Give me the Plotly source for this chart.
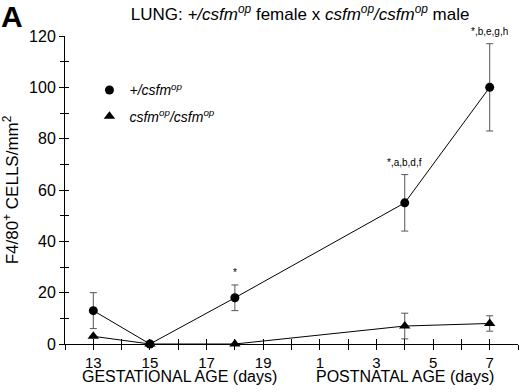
import plotly.graph_objects as go

# ---- data ----
sample_phase = ["G", "G", "G", "P", "P"]      # G = gestational, P = postnatal
sample_day = [13, 15, 18, 4, 7]
het_mean = [13, 0, 18, 55, 100]               # +/csfm^op
het_err = [7, 0, 5, 11, 17]
op_mean = [3, 0, 0, 7, 8]                     # csfm^op/csfm^op
op_err = [0, 0, 0, 5, 3]
sig_labels = ["", "", "*", "*,a,b,d,f", "*,b,e,g,h"]

gest_tick_days = [13, 15, 17, 19]
post_tick_days = [1, 3, 5, 7]
y_tick_vals = [0, 20, 40, 60, 80, 100, 120]

FIRST_GEST_DAY = 13
LAST_GEST_DAY = 20


def pos(phase, day):
    # continuous age axis: E13 -> 0 ... E20 -> 7, P1 -> 8 ...
    if phase == "G":
        return day - FIRST_GEST_DAY
    return (LAST_GEST_DAY - FIRST_GEST_DAY) + day


xs = [pos(p, d) for p, d in zip(sample_phase, sample_day)]
tick_pos = [pos("G", d) for d in gest_tick_days] + [pos("P", d) for d in post_tick_days]
tick_txt = [str(d) for d in gest_tick_days] + [str(d) for d in post_tick_days]

FONT = "Liberation Sans, Arial, Helvetica, sans-serif"
err_style = dict(type="data", visible=True, color="#555555", thickness=1, width=3.5)

fig = go.Figure()

fig.add_trace(go.Scatter(
    x=xs, y=het_mean, mode="lines+markers",
    line=dict(color="black", width=1),
    marker=dict(symbol="circle", size=9, color="black"),
    error_y=dict(array=het_err, **err_style),
    cliponaxis=False, showlegend=False))

fig.add_trace(go.Scatter(
    x=xs, y=op_mean, mode="lines+markers",
    line=dict(color="black", width=1),
    marker=dict(symbol="triangle-up", size=10, color="black"),
    error_y=dict(array=op_err, **err_style),
    cliponaxis=False, showlegend=False))

# legend-only entries (markers only, as in the original)
fig.add_trace(go.Scatter(
    x=[None], y=[None], mode="markers",
    marker=dict(symbol="circle", size=9, color="black"),
    name="<i>+/csfm<sup>op</sup></i>", legendgroup="a"))
fig.add_trace(go.Scatter(
    x=[None], y=[None], mode="markers",
    marker=dict(symbol="triangle-up", size=10, color="black"),
    name="<i>csfm<sup>op</sup>/csfm<sup>op</sup></i>", legendgroup="b"))

# invisible trace to carry the overlay axes (inside tick halves)
fig.add_trace(go.Scatter(x=[None], y=[None], xaxis="x2", yaxis="y2",
                         showlegend=False, hoverinfo="skip"))

# significance labels above the upper error bars
for x, m, e, lab in zip(xs, het_mean, het_err, sig_labels):
    if lab:
        fig.add_annotation(x=x, y=m + e, text=lab, showarrow=False,
                           yanchor="bottom", yshift=5,
                           font=dict(size=10, color="black", family=FONT))

xr = [-1, 15]
yr = [0, 120]

fig.update_layout(
    width=520, height=392,
    margin=dict(l=65, r=2, t=36, b=48),
    paper_bgcolor="white", plot_bgcolor="white",
    font=dict(family=FONT, color="black", size=16),
    title=dict(text="LUNG: <i>+/csfm<sup>op</sup></i> female x <i>csfm<sup>op</sup>/csfm<sup>op</sup></i> male",
               x=0.519, xref="paper", xanchor="center",
               y=1 - 14 / 392, yref="container", yanchor="middle",
               font=dict(size=17, family=FONT, color="black")),
    xaxis=dict(range=xr, showgrid=False, zeroline=False, automargin=False,
               showline=True, linecolor="black", linewidth=1,
               tickmode="array", tickvals=tick_pos, ticktext=tick_txt,
               ticks="outside", ticklen=5, tickcolor="black", tickwidth=1,
               minor=dict(dtick=1, tick0=-1, ticks="outside", ticklen=5,
                          tickcolor="black", tickwidth=1, showgrid=False),
               tickfont=dict(size=15)),
    yaxis=dict(range=yr, showgrid=False, zeroline=False, automargin=False,
               showline=True, linecolor="black", linewidth=1,
               tickmode="array", tickvals=y_tick_vals,
               ticks="outside", ticklen=5, tickcolor="black", tickwidth=1,
               minor=dict(dtick=10, ticks="outside", ticklen=4,
                          tickcolor="black", tickwidth=1, showgrid=False),
               tickfont=dict(size=16),
               title=dict(text="F4/80<sup>+</sup> CELLS/mm<sup>2</sup>",
                          font=dict(size=17), standoff=8)),
    xaxis2=dict(range=xr, overlaying="x", anchor="y2", showgrid=False,
                zeroline=False, showline=False, showticklabels=False,
                tickmode="array", tickvals=tick_pos,
                ticks="inside", ticklen=5, tickcolor="black", tickwidth=1,
                minor=dict(dtick=1, tick0=-1, ticks="inside", ticklen=5,
                           tickcolor="black", tickwidth=1, showgrid=False)),
    yaxis2=dict(range=yr, overlaying="y", anchor="x2", showgrid=False,
                zeroline=False, showline=False, showticklabels=False,
                tickmode="array", tickvals=y_tick_vals,
                ticks="inside", ticklen=4, tickcolor="black", tickwidth=1,
                minor=dict(dtick=10, ticks="inside", ticklen=4,
                           tickcolor="black", tickwidth=1, showgrid=False)),
    legend=dict(x=0.054, y=0.8755, xanchor="left", yanchor="top",
                bgcolor="rgba(0,0,0,0)", borderwidth=0,
                font=dict(size=14, family=FONT),
                traceorder="grouped", tracegroupgap=5),
)

# panel letter and the two axis-region labels
fig.add_annotation(text="<b>A</b>", xref="paper", yref="paper",
                   x=-0.146, y=1.122, xanchor="left", yanchor="top",
                   showarrow=False, font=dict(size=30, family=FONT, color="black"))
fig.add_annotation(text="GESTATIONAL AGE (days)", xref="x", yref="paper",
                   x=3.05, y=-0.106, xanchor="center", yanchor="middle",
                   showarrow=False, font=dict(size=16, family=FONT))
fig.add_annotation(text="POSTNATAL AGE (days)", xref="x", yref="paper",
                   x=11.0, y=-0.106, xanchor="center", yanchor="middle",
                   showarrow=False, font=dict(size=16, family=FONT))

fig.write_html("out.html",
               config={"displayModeBar": False},
               post_script="document.body.style.margin='0';document.body.style.overflow='hidden';")
